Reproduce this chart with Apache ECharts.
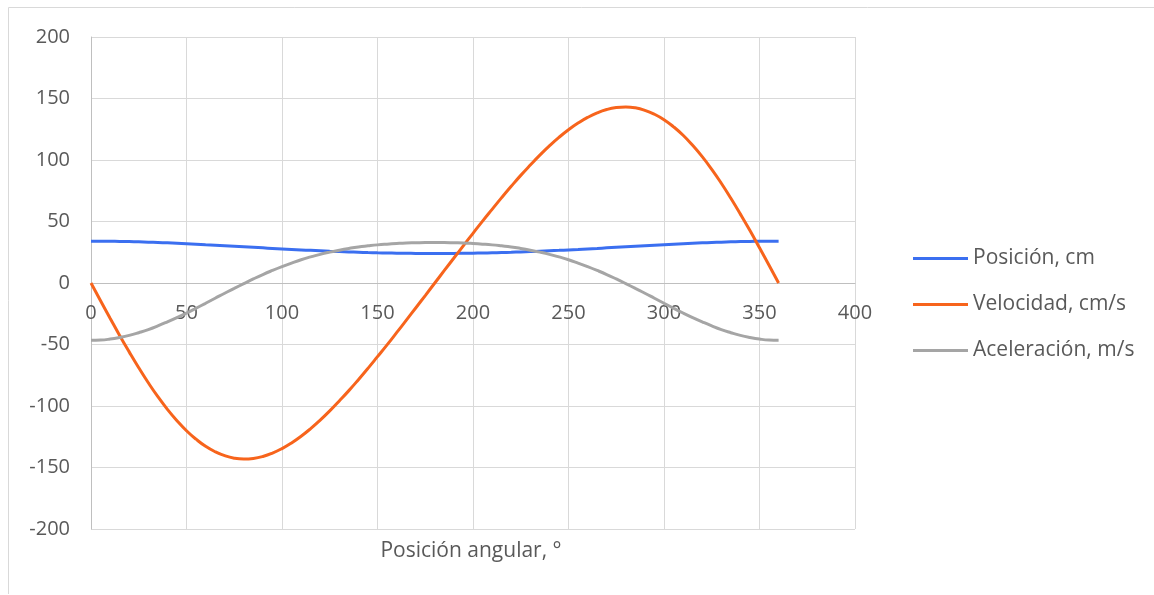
<!DOCTYPE html>
<html>
<head>
<meta charset="utf-8">
<script src="https://cdn.jsdelivr.net/npm/echarts@6/dist/echarts.min.js"></script>
<style>
html,body{margin:0;padding:0;background:#fff;}
#chart{width:1154px;height:595px;}
</style>
</head>
<body>
<div id="chart"></div>
<script>
const angles = [0,5,10,15,20,25,30,35,40,45,50,55,60,65,70,75,80,85,90,95,100,105,110,115,120,125,130,135,140,145,150,155,160,165,170,175,180,
  185,190,195,200,205,210,215,220,225,230,235,240,245,250,255,260,265,270,275,280,285,290,295,300,305,310,315,320,325,330,335,340,345,350,355,360];
const posicion = [34,33.98,33.91,33.80,33.65,33.45,33.22,32.95,32.65,32.32,31.96,31.58,31.17,30.76,30.33,29.89,29.45,29.01,28.57,28.13,27.71,27.30,26.91,26.53,26.18,25.84,25.53,25.25,24.99,24.76,24.56,24.39,24.25,24.14,24.06,24.02,24,
  24.02,24.06,24.14,24.25,24.39,24.56,24.76,24.99,25.25,25.53,25.84,26.18,26.53,26.91,27.30,27.71,28.13,28.57,29.01,29.45,29.89,30.33,30.76,31.17,31.58,31.96,32.32,32.65,32.95,33.22,33.45,33.65,33.80,33.91,33.98,34];
const velocidad = [0,-14.4,-28.6,-42.6,-56.0,-68.9,-81.1,-92.4,-102.7,-111.9,-120.1,-127.0,-132.8,-137.2,-140.4,-142.4,-143.1,-142.6,-141,-138.3,-134.6,-130.0,-124.6,-118.4,-111.5,-104.0,-95.9,-87.5,-78.6,-69.4,-59.9,-50.3,-40.4,-30.4,-20.3,-10.2,0,
  10.2,20.3,30.4,40.4,50.3,59.9,69.4,78.6,87.5,95.9,104.0,111.5,118.4,124.6,130.0,134.6,138.3,141,142.6,143.1,142.4,140.4,137.2,132.8,127.0,120.1,111.9,102.7,92.4,81.1,68.9,56.0,42.6,28.6,14.4,0];
const aceleracion = [-46.6,-46.4,-45.6,-44.3,-42.6,-40.4,-37.9,-34.9,-31.6,-28.1,-24.4,-20.5,-16.5,-12.4,-8.3,-4.4,-0.5,3.3,6.9,10.2,13.3,16.2,18.9,21.2,23.3,25.1,26.7,28.1,29.3,30.2,31.0,31.6,32.1,32.5,32.7,32.9,32.9,
  32.9,32.7,32.5,32.1,31.6,31.0,30.2,29.3,28.1,26.7,25.1,23.3,21.2,18.9,16.2,13.3,10.2,6.9,3.3,-0.5,-4.4,-8.3,-12.4,-16.5,-20.5,-24.4,-28.1,-31.6,-34.9,-37.9,-40.4,-42.6,-44.3,-45.6,-46.4,-46.6];
const seriesNames = ['Posición, cm','Velocidad, cm/s','Aceleración, m/s'];
const xAxisName = 'Posición angular, °';

const FONT = 'Open Sans';
const FS = 20;
const FST = 21;
const pair = arr => angles.map((a,i)=>[a,arr[i]]);

const chart = echarts.init(document.getElementById('chart'), null, {renderer:'canvas'});
chart.setOption({
  animation:false,
  textStyle:{fontFamily:FONT},
  grid:{left:91,right:299,top:37,bottom:66,containLabel:false},
  xAxis:{
    type:'value',min:0,max:400,interval:50,
    offset:-246,
    axisLine:{show:true,onZero:false,lineStyle:{color:'#bfbfbf',width:1}},
    axisTick:{show:false},
    axisLabel:{color:'#595959',fontSize:FS,fontFamily:FONT,margin:20},
    splitLine:{show:true,lineStyle:{color:'#d9d9d9',width:1}}
  },
  yAxis:{
    type:'value',min:-200,max:200,interval:50,
    axisLine:{show:true,onZero:false,lineStyle:{color:'#bfbfbf',width:1}},
    axisTick:{show:false},
    axisLabel:{color:'#595959',fontSize:FS,fontFamily:FONT,margin:21},
    splitLine:{show:true,lineStyle:{color:'#d9d9d9',width:1}}
  },
  legend:{
    orient:'vertical',left:908,top:243,
    icon:'rect',itemWidth:55,itemHeight:3,itemGap:25,
    textStyle:{color:'#595959',fontSize:FST,fontFamily:FONT,lineHeight:21},
    data:seriesNames
  },
  graphic:[
    {type:'line',shape:{x1:8.5,y1:7.5,x2:8.5,y2:594},style:{stroke:'#d9d9d9',lineWidth:1},silent:true},
    {type:'line',shape:{x1:8.5,y1:7.5,x2:1154,y2:7.5},style:{stroke:'#d9d9d9',lineWidth:1},silent:true},
    {type:'text',x:471,y:551,style:{text:xAxisName,fill:'#595959',font:FST+'px "'+FONT+'"',textAlign:'center',textVerticalAlign:'middle'},silent:true}
  ],
  series:[
    {name:seriesNames[0],type:'line',data:pair(posicion),smooth:true,showSymbol:false,symbol:'none',color:'#3b6ff0',lineStyle:{width:3,color:'#3b6ff0'}},
    {name:seriesNames[1],type:'line',data:pair(velocidad),smooth:true,showSymbol:false,symbol:'none',color:'#f7641c',lineStyle:{width:3,color:'#f7641c'}},
    {name:seriesNames[2],type:'line',data:pair(aceleracion),smooth:true,showSymbol:false,symbol:'none',color:'#a5a5a5',lineStyle:{width:3,color:'#a5a5a5'}}
  ]
});
</script>
</body>
</html>
